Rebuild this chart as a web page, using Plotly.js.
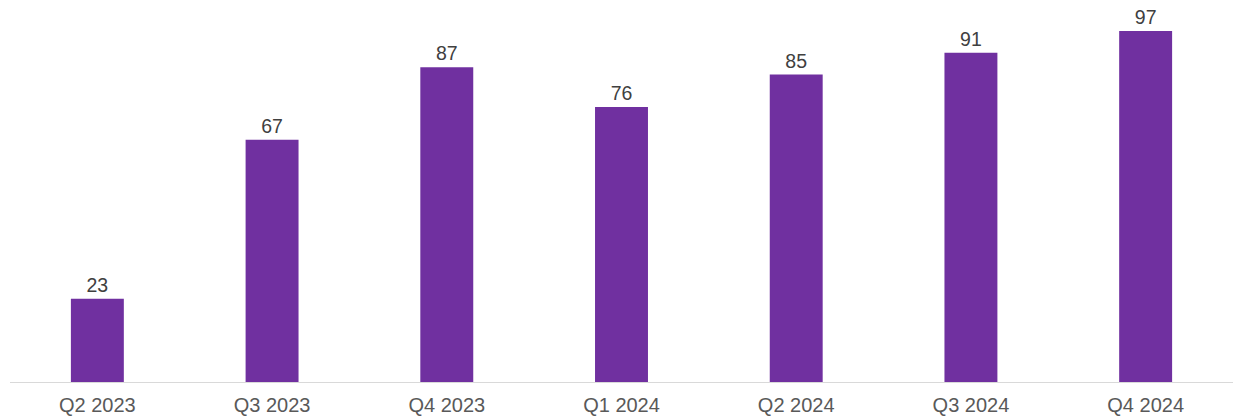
<!DOCTYPE html>
<html><head><meta charset="utf-8">
<script src="https://cdn.plot.ly/plotly-3.0.1.min.js"></script>
<style>html,body{margin:0;padding:0;background:#fff}#chart{width:1233px;height:419px}</style>
</head><body><div id="chart"></div>
<script>
const categories = ["Q2 2023","Q3 2023","Q4 2023","Q1 2024","Q2 2024","Q3 2024","Q4 2024"];
const values = [23, 67, 87, 76, 85, 91, 97];

Plotly.newPlot('chart', [{
  type: 'bar',
  x: categories,
  y: values,
  text: values.map(String),
  textposition: 'outside',
  cliponaxis: false,
  constraintext: 'none',
  textfont: {family: 'Liberation Sans, Arial, sans-serif', size: 19.5, color: '#404040'},
  marker: {color: '#7030A0'},
  hoverinfo: 'none'
}], {
  width: 1233, height: 419,
  margin: {l: 10, r: 0, t: 0, b: 37},
  bargap: 0.697,
  paper_bgcolor: '#fff', plot_bgcolor: '#fff',
  showlegend: false,
  xaxis: {
    type: 'category',
    showline: true, linecolor: '#d9d9d9', linewidth: 1,
    ticks: '', showgrid: false, zeroline: false,
    tickfont: {family: 'Liberation Sans, Arial, sans-serif', size: 20, color: '#595959'},
    ticklabelstandoff: 5
  },
  yaxis: {
    range: [0, 105.6], visible: false, showgrid: false, zeroline: false
  }
}, {staticPlot: true});
</script></body></html>
